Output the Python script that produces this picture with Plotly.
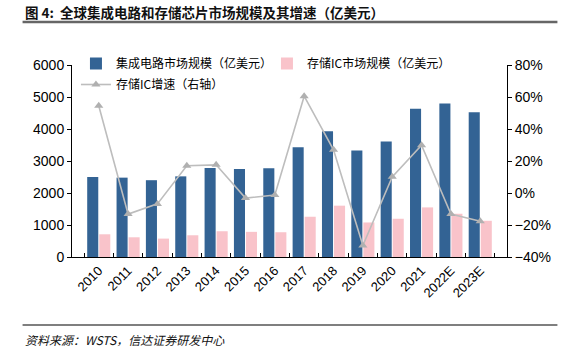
import plotly.graph_objects as go

years = ["2010", "2011", "2012", "2013", "2014", "2015", "2016", "2017", "2018", "2019", "2020", "2021", "2022E", "2023E"]
ic_market = [2500, 2480, 2400, 2520, 2780, 2750, 2770, 3430, 3930, 3330, 3610, 4630, 4800, 4520]
memory_market = [710, 616, 575, 679, 805, 786, 774, 1258, 1604, 1079, 1195, 1550, 1352, 1132]
memory_growth = [0.545, -0.132, -0.068, 0.17, 0.176, -0.032, -0.013, 0.605, 0.27, -0.328, 0.101, 0.299, -0.132, -0.176]

L, R, T, B = 72, 51, 65, 94
W, H = 563, 351
pw, ph = W - L - R, H - T - B

def px(x):
    return (x - L) / pw

def py(y):
    return (H - B - y) / ph

cjk = "Noto Sans CJK SC"
latin = "Liberation Sans, Arial"

fig = go.Figure()
fig.add_trace(go.Bar(x=years, y=ic_market, name="集成电路市场规模（亿美元）",
                     marker=dict(color="#336394", line=dict(width=0)), legend="legend"))
fig.add_trace(go.Bar(x=years, y=memory_market, name="存储IC市场规模（亿美元）",
                     marker=dict(color="#F9C3CA", line=dict(width=0)), legend="legend"))
fig.add_trace(go.Scatter(x=years, y=memory_growth, name="存储IC增速（右轴）", yaxis="y2",
                         mode="lines+markers", line=dict(color="#BDBDBD", width=1.6),
                         marker=dict(symbol="triangle-up", size=8, color="#B0B0B0"),
                         legend="legend2"))

fig.update_layout(
    width=W, height=H,
    margin=dict(l=L, r=R, t=T, b=B),
    paper_bgcolor="white", plot_bgcolor="white",
    barmode="group", bargap=0.18, bargroupgap=0.08,
    font=dict(family=latin, size=13, color="#000"),
    xaxis=dict(showline=True, linecolor="#000", linewidth=1, ticks="inside", ticklen=4,
               tickcolor="#000", tickangle=-45, tickfont=dict(family=latin, size=13),
               showgrid=False, tickson="boundaries"),
    yaxis=dict(range=[0, 6000], dtick=1000, showline=True, linecolor="#000", linewidth=1,
               ticks="outside", ticklen=4, tickcolor="#000", showgrid=False, zeroline=False,
               tickfont=dict(family=latin, size=14)),
    yaxis2=dict(range=[-0.4, 0.8], dtick=0.2, tickformat=".0%", overlaying="y", side="right",
                showline=True, linecolor="#000", linewidth=1, ticks="outside", ticklen=4,
                tickcolor="#000", showgrid=False, zeroline=False,
                tickfont=dict(family=latin, size=14)),
    legend=dict(orientation="h", x=px(76), y=py(49), xanchor="left", yanchor="top",
                font=dict(family=cjk, size=12), bgcolor="rgba(0,0,0,0)",
                itemwidth=30, entrywidth=146, entrywidthmode="pixels", tracegroupgap=0),
    legend2=dict(orientation="h", x=px(76), y=py(70), xanchor="left", yanchor="top",
                 font=dict(family=cjk, size=12), bgcolor="rgba(0,0,0,0)", itemwidth=30),
    showlegend=True,
)

fig.add_annotation(text="<b>图 4:  全球集成电路和存储芯片市场规模及其增速（亿美元）</b>",
                   xref="paper", yref="paper", x=px(22), y=py(12), xanchor="left", yanchor="middle",
                   showarrow=False, font=dict(family=cjk, size=13.5, color="#111"))
fig.add_annotation(text="<i>资料来源：WSTS，信达证券研发中心</i>",
                   xref="paper", yref="paper", x=px(22), y=py(339), xanchor="left", yanchor="middle",
                   showarrow=False, font=dict(family=cjk, size=12, color="#111"))
fig.add_shape(type="line", xref="paper", yref="paper", x0=px(22), x1=px(563), y0=py(22), y1=py(22),
              line=dict(color="#666", width=2.5))
fig.add_shape(type="line", xref="paper", yref="paper", x0=px(22), x1=px(563), y0=py(325), y1=py(325),
              line=dict(color="#555", width=1.5))

fig.write_html("out.html")
